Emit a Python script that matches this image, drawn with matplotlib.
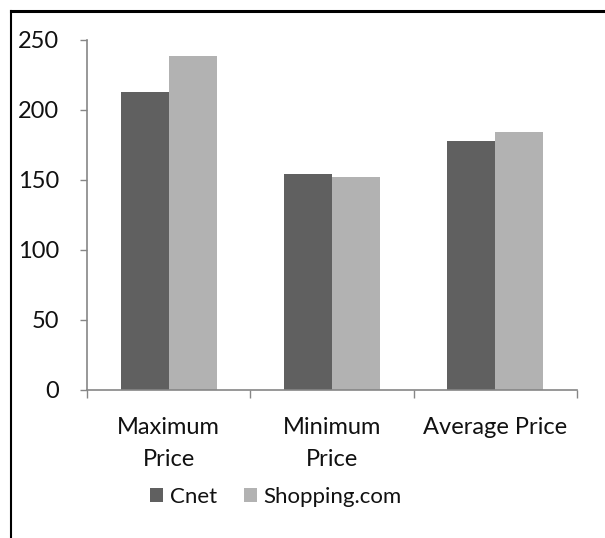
import matplotlib
matplotlib.use("Agg")
import matplotlib.pyplot as plt
from matplotlib.lines import Line2D
import numpy as np

categories = ["Maximum\nPrice", "Minimum\nPrice", "Average Price"]
series_names = ["Cnet", "Shopping.com"]
cnet = [212.5, 154, 178]
shopping = [238.5, 152, 184]
yticks = [0, 50, 100, 150, 200, 250]
colors = ["#606060", "#b2b2b2"]

plt.rcParams['font.family'] = ['Lato', 'DejaVu Sans']

W, H = 605, 538
FS = 17
TXT = "#111111"
fig = plt.figure(figsize=(W/100, H/100), dpi=100)
ax = fig.add_axes([87/W, 1-389.5/H, (577-87)/W, (389.5-40)/H])

x = np.arange(len(categories))
bw = 0.294
ax.bar(x - bw/2, cnet, bw, color=colors[0], label=series_names[0], zorder=2)
ax.bar(x + bw/2, shopping, bw, color=colors[1], label=series_names[1], zorder=2)

ax.set_xlim(-0.5, 2.5)
ax.set_ylim(0, 250)
ax.set_yticks(yticks)
ax.set_yticklabels([str(v) for v in yticks], fontsize=FS, color=TXT)
ax.set_xticks([-0.5, 0.5, 1.5, 2.5], minor=False)
ax.set_xticklabels([])
ax.set_xticks(x, minor=True)
ax.set_xticklabels(categories, minor=True, fontsize=FS, color=TXT, linespacing=1.65)
ax.tick_params(axis='x', which='minor', length=0, pad=20)
ax.tick_params(axis='x', which='major', length=6, color="#868686", width=1)
ax.tick_params(axis='y', length=5, color="#868686", width=1, pad=15)
for s in ['top', 'right']:
    ax.spines[s].set_visible(False)
for s in ['left', 'bottom']:
    ax.spines[s].set_color("#868686")
    ax.spines[s].set_linewidth(1.2)

leg = ax.legend(loc='center', bbox_to_anchor=(276/W, (538-497)/H), bbox_transform=fig.transFigure,
                ncol=2, frameon=False, fontsize=16, handlelength=0.6, handleheight=0.6,
                handletextpad=0.3, columnspacing=1.2)
for t in leg.get_texts():
    t.set_color(TXT)

fig.add_artist(Line2D([11/W, 1.0], [1-10.5/H, 1-10.5/H], color="black", lw=2.2))
fig.add_artist(Line2D([11/W, 11/W], [0, 1-10.5/H], color="black", lw=1.5))

fig.savefig("out.png", dpi=100)
